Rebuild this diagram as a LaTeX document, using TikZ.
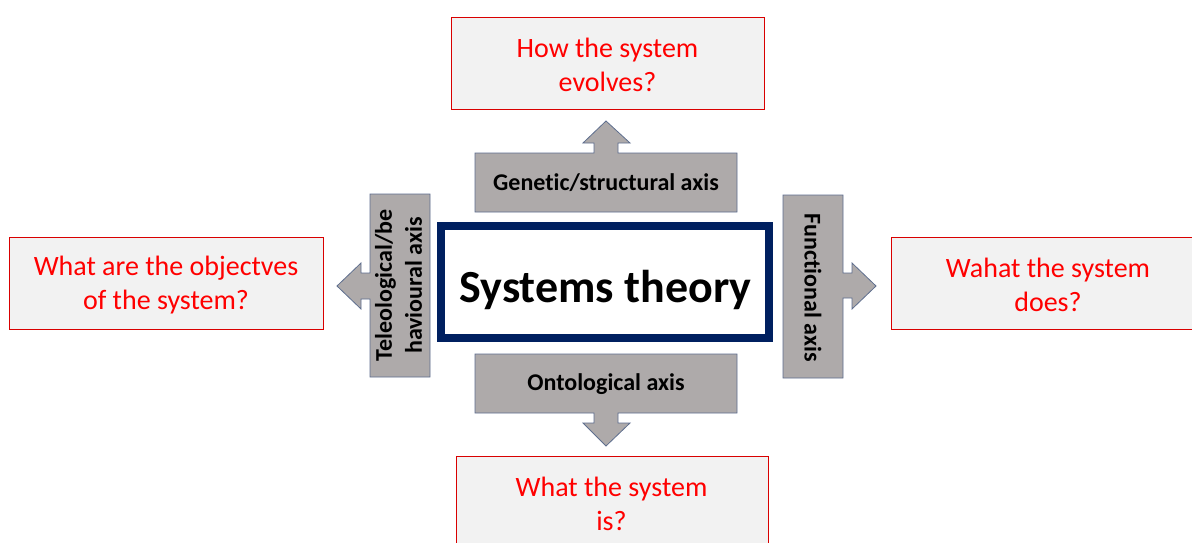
\documentclass[tikz,border=0pt]{standalone}
\usepackage{fontspec}
\setmainfont{Carlito}[Ligatures=NoCommon]
\begin{document}
\begin{tikzpicture}[x=1pt,y=-1pt,
  question/.style={draw=red!85!black, line width=0.9pt, fill=black!5},
  qtext/.style={text=red, font=\fontsize{28}{34}\selectfont, align=center, inner sep=0pt},
  axisshape/.style={fill=axisgray, draw=axisedge, line width=0.8pt},
  axislabel/.style={font=\bfseries\fontsize{24}{30}\selectfont, align=center, inner sep=0pt}]
\definecolor{axisgray}{HTML}{AEAAAA}
\definecolor{axisedge}{HTML}{5E6E8E}
\definecolor{navy}{HTML}{002060}
\useasboundingbox (0,0) rectangle (1192,543);
\fill[white] (0,0) rectangle (1192,543);

% question boxes
\node[question, inner sep=0pt, minimum width=313pt, minimum height=92pt] (qtopbox) at (607.5,63) {};
\node[qtext] (qtop) at (607.5,65) {How the system\\evolves?};
\node[question, inner sep=0pt, minimum width=314pt, minimum height=92pt] (qleftbox) at (166,283) {};
\node[qtext] (qleft) at (166,285.5) {What are the objectves\\of the system?};
\path[question] (1195,237) -- (891,237) -- (891,329) -- (1195,329);
\node[qtext] (qright) at (1048,285) {Wahat the system\\does?};
\path[question] (456,545) -- (456,456) -- (768,456) -- (768,545);
\node[qtext] (qbottom) at (611.5,504) {What the system\\is?};

% centre box
\node[draw=navy, line width=8pt, fill=white, minimum width=328pt, minimum height=112pt,
  inner sep=0pt] (core) at (605,282) {};
\node[anchor=base, inner sep=0pt, font=\bfseries\fontsize{46}{52}\selectfont] (coretext) at (605.5,302) {Systems theory};

% genetic / structural axis, arrow up
\path[axisshape] (475,153) -- (594,153) -- (594,143) -- (583,143) -- (606,121) -- (630,143)
  -- (618,143) -- (618,153) -- (737,153) -- (737,212) -- (475,212) -- cycle;
\node[axislabel] (genetic) at (606,183) {Genetic/structural axis};

% ontological axis, arrow down
\path[axisshape] (475,354) -- (737,354) -- (737,413) -- (618,413) -- (618,423) -- (630,423)
  -- (606,446) -- (583,423) -- (594,423) -- (594,413) -- (475,413) -- cycle;
\node[axislabel] (onto) at (606,384) {Ontological axis};

% teleological axis, arrow left
\path[axisshape] (370,194) -- (430,194) -- (430,377) -- (370,377) -- (370,299) -- (361,299)
  -- (361,309) -- (337,286) -- (361,263) -- (361,273) -- (370,273) -- cycle;
\node[axislabel, rotate=90] (teleo) at (398.5,285.5) {Teleological/be\\havioural axis};

% functional axis, arrow right
\path[axisshape] (783,195) -- (843,195) -- (843,273) -- (852,273) -- (852,263) -- (876,286)
  -- (852,309) -- (852,298) -- (843,298) -- (843,378) -- (783,378) -- cycle;
\node[axislabel, rotate=-90] (func) at (813,287.5) {Functional axis};
\end{tikzpicture}
\end{document}
